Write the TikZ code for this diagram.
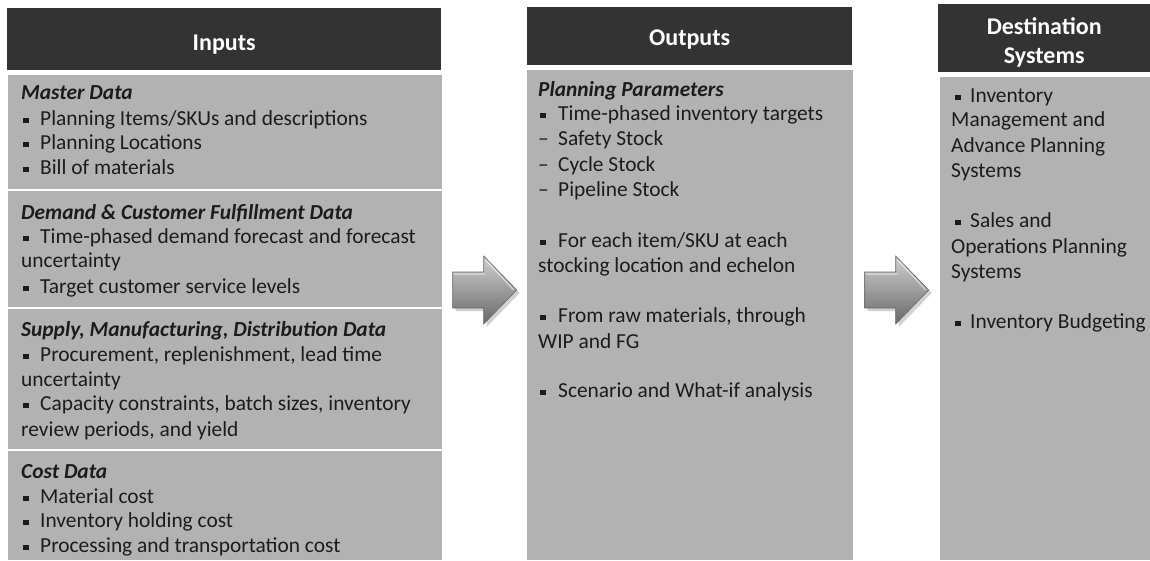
\documentclass[tikz,border=0pt]{standalone}
\usepackage{fontspec}
\setmainfont{Carlito}
\usetikzlibrary{calc}

\definecolor{hdrgray}{HTML}{333333}
\definecolor{panelgray}{HTML}{B2B2B2}
\definecolor{inkgray}{HTML}{1C1C1C}
\definecolor{arrowlight}{HTML}{D0D0D0}
\definecolor{arrowmid}{HTML}{9A9A9A}
\definecolor{arrowdark}{HTML}{686868}

% bullets and dashes with fixed indents
\newcommand\bu{\makebox[19pt][l]{\hspace{2pt}\rule[2pt]{5.5pt}{5.5pt}}}
\newcommand\bub{\makebox[20pt][l]{\hspace{2pt}\rule[2pt]{5.5pt}{5.5pt}}}
\newcommand\bud{\makebox[19pt][l]{\hspace{4pt}\rule[2pt]{5.5pt}{5.5pt}}}
\newcommand\dsh{\makebox[20pt][l]{–}}
\newcommand\sect[1]{\textbf{\textit{#1}}}

\begin{document}
\begin{tikzpicture}[x=1pt,y=-1pt,
  hdr/.style={fill=hdrgray, inner sep=0, anchor=north west},
  hdrtext/.style={text=white, inner sep=0, align=center,
    font=\fontsize{24}{29}\selectfont\bfseries},
  panel/.style={fill=panelgray, inner sep=0, anchor=north west},
  txt/.style={anchor=base west, inner sep=0, text=inkgray,
    font=\fontsize{21.4}{25}\selectfont},
  divider/.style={white, line width=2pt},
  blockarrow/.pic={
    % soft drop shadow
    \fill[black, opacity=0.18]
      (-29,-15) -- (2,-15) -- (2,-31) -- (35,3) -- (2,37) -- (2,21) -- (-29,21) -- cycle;
    % arrow body
    \shade[top color=arrowlight, middle color=arrowmid, bottom color=arrowdark,
      draw=arrowdark, line width=0.6pt]
      (-32,-18) -- (-1,-18) -- (-1,-34) -- (32,0) -- (-1,34) -- (-1,18) -- (-32,18) -- cycle;
    % bevel highlight along the upper faces
    \draw[white, opacity=0.55, line width=1.2pt]
      (-31,-16) -- (1,-16) (1,-30) -- (29,0);
  }]

\useasboundingbox (0,0) rectangle (1150,560);
\fill[white] (0,0) rectangle (1150,560);

% ---------- headers ----------
\node[hdr, minimum width=434, minimum height=62] (inh) at (7,8) {};
\node[hdr, minimum width=325, minimum height=58] (outh) at (527,7) {};
\node[hdr, minimum width=212, minimum height=68] (dsth) at (938,4) {};
\node[hdrtext] (inht) at ([yshift=-5pt]inh.center) {Inputs};
\node[hdrtext] (outht) at ([yshift=-3pt]outh.center) {Outputs};
\node[hdrtext] (dstht) at ([yshift=-4pt]dsth.center) {Destination\\Systems};

% ---------- panels ----------
\node[panel, minimum width=434, minimum height=485] (inp) at (8,75) {};
\node[panel, minimum width=326, minimum height=490] (outp) at (527,70) {};
\node[panel, minimum width=210, minimum height=483] (dstp) at (940,77) {};

\coordinate (d1) at (0,190);
\coordinate (d2) at (0,308);
\coordinate (d3) at (0,450);
\foreach \d in {d1,d2,d3}
  \draw[divider] (inp.west |- \d) -- (inp.east |- \d);

% ---------- input texts ----------
\node[txt] (m0) at (21,99) {\sect{Master Data}};
\node[txt] (m1) at (21,125) {\bu Planning Items/SKUs and descriptions};
\node[txt] (m2) at (21,149) {\bu Planning Locations};
\node[txt] (m3) at (21,174) {\bu Bill of materials};

\node[txt] (c0) at (21,219) {\sect{Demand \& Customer Fulfillment Data}};
\node[txt] (c1) at (21,243) {\bu Time-phased demand forecast and forecast};
\node[txt] (c2) at (21,267) {uncertainty};
\node[txt] (c3) at (21,293) {\bu Target customer service levels};

\node[txt] (s0) at (21,336) {\sect{Supply, Manufacturing, Distribution Data}};
\node[txt] (s1) at (21,361) {\bu Procurement, replenishment, lead time};
\node[txt] (s2) at (21,386) {uncertainty};
\node[txt] (s3) at (21,410) {\bu Capacity constraints, batch sizes, inventory};
\node[txt] (s4) at (21,436) {review periods, and yield};

\node[txt] (k0) at (21,478) {\sect{Cost Data}};
\node[txt] (k1) at (21,503) {\bu Material cost};
\node[txt] (k2) at (21,527) {\bu Inventory holding cost};
\node[txt] (k3) at (21,552) {\bu Processing and transportation cost};

% ---------- output texts ----------
\node[txt] (p0) at (538,96) {\sect{Planning Parameters}};
\node[txt] (p1) at (538,120) {\bub Time-phased inventory targets};
\node[txt] (p2) at (538,145) {\dsh Safety Stock};
\node[txt] (p3) at (538,171) {\dsh Cycle Stock};
\node[txt] (p4) at (538,196) {\dsh Pipeline Stock};
\node[txt] (p5) at (538,247) {\bub For each item/SKU at each};
\node[txt] (p6) at (538,272) {stocking location and echelon};
\node[txt] (p7) at (538,322) {\bub From raw materials, through};
\node[txt] (p8) at (538,348) {WIP and FG};
\node[txt] (p9) at (538,397) {\bub Scenario and What-if analysis};

% ---------- destination texts ----------
\node[txt] (t1) at (951,102) {\bud Inventory};
\node[txt] (t2) at (951,126) {Management and};
\node[txt] (t3) at (951,152) {Advance Planning};
\node[txt] (t4) at (951,177) {Systems};
\node[txt] (t5) at (951,227) {\bud Sales and};
\node[txt] (t6) at (951,253) {Operations Planning};
\node[txt] (t7) at (951,278) {Systems};
\node[txt] (t8) at (951,328) {\bud Inventory Budgeting};

% ---------- flow arrows between the columns ----------
\coordinate (ay) at (0,290);
\pic at ($(inp.east |- ay)!0.5!(outp.west |- ay)$) {blockarrow};
\pic at ($(outp.east |- ay)!0.5!(dstp.west |- ay)$) {blockarrow};
\end{tikzpicture}
\end{document}
